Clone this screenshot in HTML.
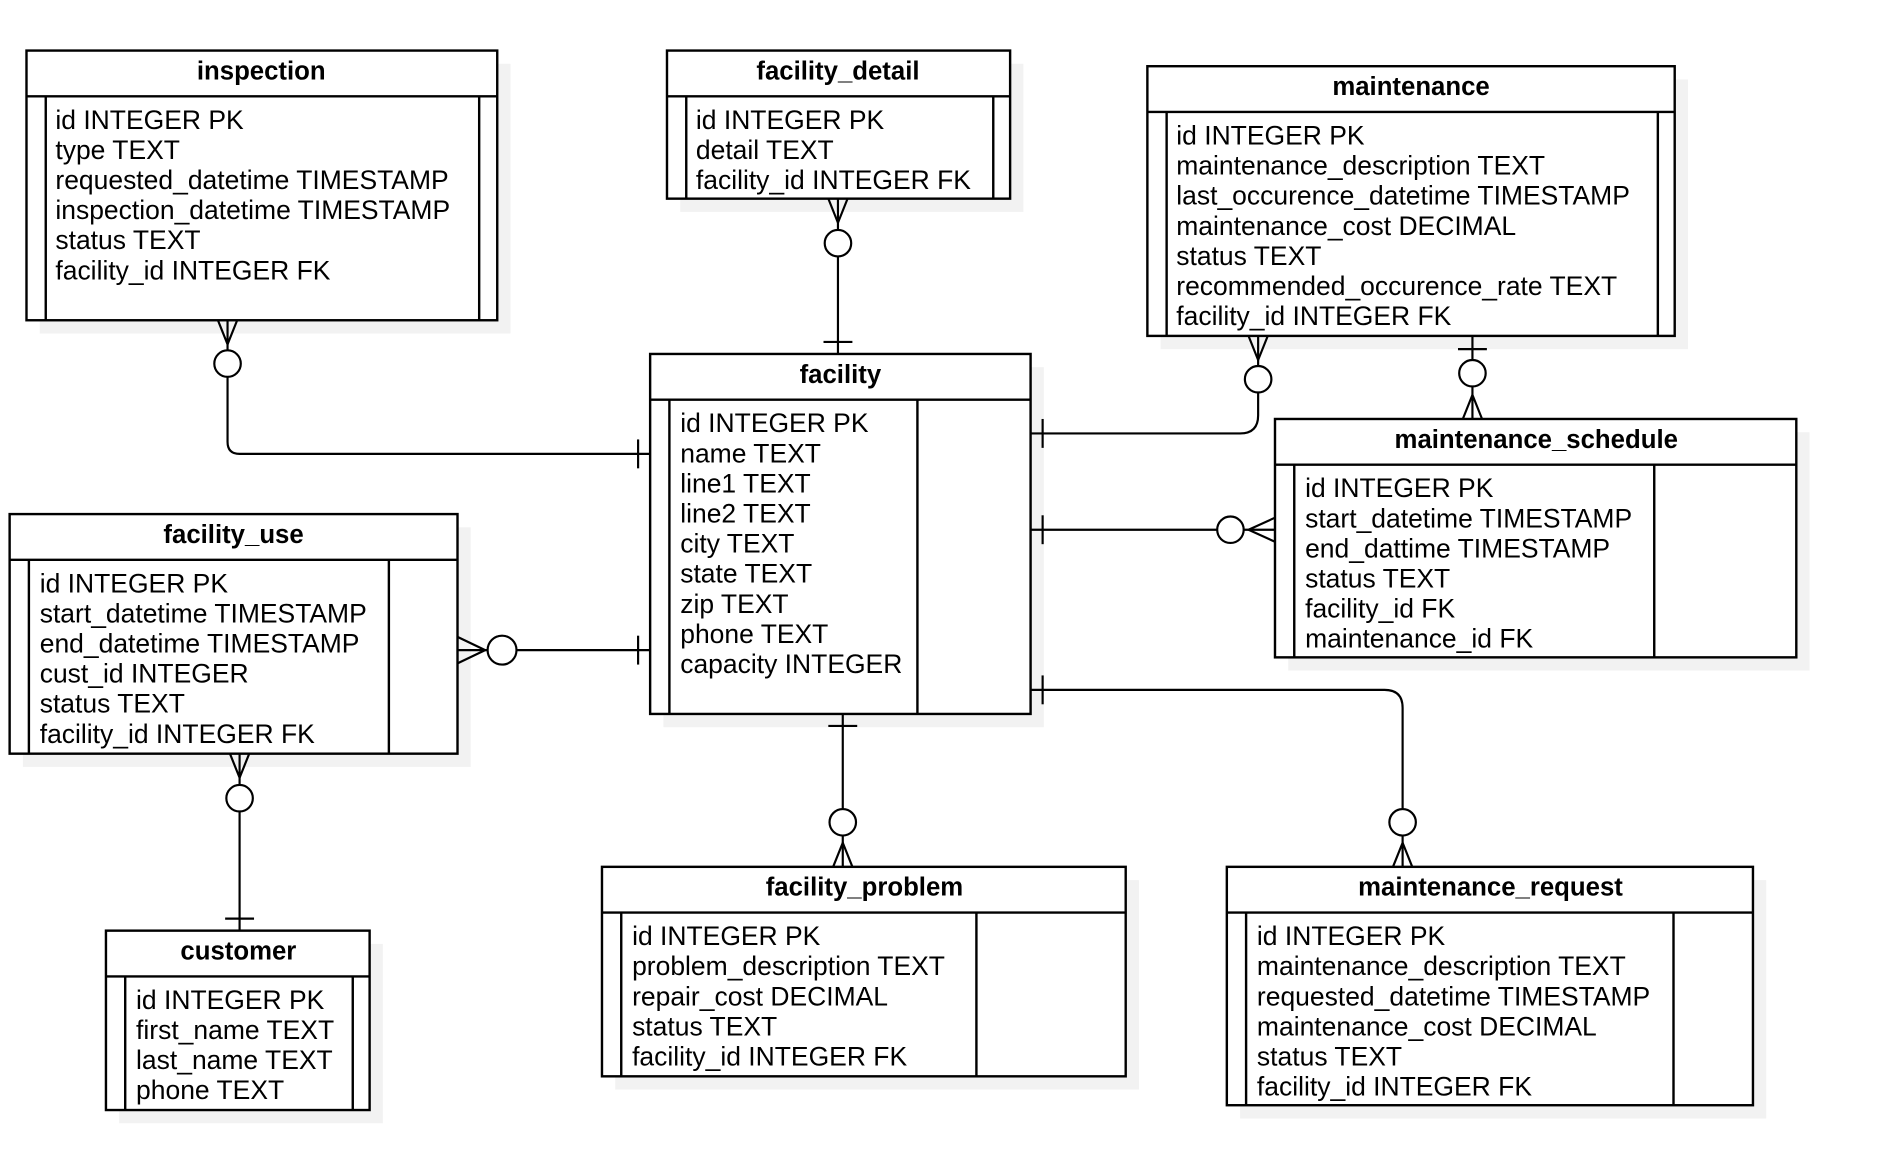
<!DOCTYPE html>
<html><head><meta charset="utf-8"><style>
html,body{margin:0;padding:0;background:#fff;width:1886px;height:1160px;overflow:hidden}
svg text{font-family:"Liberation Sans",Arial,sans-serif;fill:#000}
.t{font-size:22px}
.h{font-size:21.4px;font-weight:bold}
</style></head><body>
<svg width="1886" height="1160" viewBox="0 0 1566.5 963.5" preserveAspectRatio="none" xmlns="http://www.w3.org/2000/svg">
<g fill="#f2f2f2" stroke="none">
<rect x="33" y="53" width="391" height="224"/>
<rect x="565" y="53" width="285" height="123"/>
<rect x="964" y="66" width="438" height="224"/>
<rect x="551" y="305" width="316" height="299"/>
<rect x="1070" y="359" width="433" height="198"/>
<rect x="19" y="438" width="372" height="199"/>
<rect x="99" y="784" width="219" height="149"/>
<rect x="511" y="731" width="435" height="174"/>
<rect x="1030" y="731" width="437" height="198"/>
</g>
<g fill="#fff" stroke="#000" stroke-width="2">
<rect x="22" y="42" width="391" height="224"/>
<line x1="22" y1="80" x2="413" y2="80"/><line x1="38" y1="80" x2="38" y2="266"/><line x1="398" y1="80" x2="398" y2="266"/>
<rect x="554" y="42" width="285" height="123"/>
<line x1="554" y1="80" x2="839" y2="80"/><line x1="570" y1="80" x2="570" y2="165"/><line x1="825" y1="80" x2="825" y2="165"/>
<rect x="953" y="55" width="438" height="224"/>
<line x1="953" y1="93" x2="1391" y2="93"/><line x1="969" y1="93" x2="969" y2="279"/><line x1="1377" y1="93" x2="1377" y2="279"/>
<rect x="540" y="294" width="316" height="299"/>
<line x1="540" y1="332" x2="856" y2="332"/><line x1="556" y1="332" x2="556" y2="593"/><line x1="762" y1="332" x2="762" y2="593"/>
<rect x="1059" y="348" width="433" height="198"/>
<line x1="1059" y1="386" x2="1492" y2="386"/><line x1="1075" y1="386" x2="1075" y2="546"/><line x1="1374" y1="386" x2="1374" y2="546"/>
<rect x="8" y="427" width="372" height="199"/>
<line x1="8" y1="465" x2="380" y2="465"/><line x1="24" y1="465" x2="24" y2="626"/><line x1="323" y1="465" x2="323" y2="626"/>
<rect x="88" y="773" width="219" height="149"/>
<line x1="88" y1="811" x2="307" y2="811"/><line x1="104" y1="811" x2="104" y2="922"/><line x1="293" y1="811" x2="293" y2="922"/>
<rect x="500" y="720" width="435" height="174"/>
<line x1="500" y1="758" x2="935" y2="758"/><line x1="516" y1="758" x2="516" y2="894"/><line x1="811" y1="758" x2="811" y2="894"/>
<rect x="1019" y="720" width="437" height="198"/>
<line x1="1019" y1="758" x2="1456" y2="758"/><line x1="1035" y1="758" x2="1035" y2="918"/><line x1="1390" y1="758" x2="1390" y2="918"/>
</g>
<g fill="none" stroke="#000" stroke-width="1.8">
<path d="M189 266 V367 Q189 377 199 377 H540"/>
<path d="M181 266 L189 286 L197 266"/><circle cx="189" cy="302" r="11" fill="#fff"/>
<line x1="530" y1="365" x2="530" y2="389"/>
<path d="M696 165 V294"/><path d="M688 165 L696 185 L704 165"/><circle cx="696" cy="202" r="11" fill="#fff"/>
<line x1="684" y1="284" x2="708" y2="284"/>
<path d="M1045 279 V345 Q1045 360 1030 360 H856"/>
<path d="M1037 279 L1045 299 L1053 279"/><circle cx="1045" cy="315" r="11" fill="#fff"/>
<line x1="866" y1="348" x2="866" y2="372"/>
<path d="M1223 279 V348"/><line x1="1211" y1="290" x2="1235" y2="290"/>
<circle cx="1223" cy="310" r="11" fill="#fff"/><path d="M1215 348 L1223 328 L1231 348"/>
<path d="M856 440 H1059"/><line x1="866" y1="428" x2="866" y2="452"/>
<circle cx="1022" cy="440" r="11" fill="#fff"/><path d="M1059 430 L1037 440 L1059 450"/>
<path d="M380 540 H540"/><path d="M380 529 L403 540 L380 551"/>
<circle cx="417" cy="540" r="12" fill="#fff"/><line x1="530" y1="528" x2="530" y2="552"/>
<path d="M199 626 V773"/><path d="M191 626 L199 646 L207 626"/>
<circle cx="199" cy="663" r="11" fill="#fff"/><line x1="187" y1="763" x2="211" y2="763"/>
<path d="M700 593 V720"/><line x1="688" y1="603" x2="712" y2="603"/>
<circle cx="700" cy="683" r="11" fill="#fff"/><path d="M692 720 L700 700 L708 720"/>
<path d="M856 573 H1150 Q1165 573 1165 588 V720"/><line x1="866" y1="561" x2="866" y2="585"/>
<circle cx="1165" cy="683" r="11" fill="#fff"/><path d="M1157 720 L1165 700 L1173 720"/>
</g>
<g text-anchor="middle">
<text class="h" x="217" y="66">inspection</text>
<text class="h" x="696" y="66">facility_detail</text>
<text class="h" x="1172" y="79">maintenance</text>
<text class="h" x="698" y="318">facility</text>
<text class="h" x="1276" y="372">maintenance_schedule</text>
<text class="h" x="194" y="451">facility_use</text>
<text class="h" x="198" y="797">customer</text>
<text class="h" x="718" y="744">facility_problem</text>
<text class="h" x="1238" y="744">maintenance_request</text>
</g>
<g>
<text class="t" x="46" y="107">id INTEGER PK</text>
<text class="t" x="46" y="132">type TEXT</text>
<text class="t" x="46" y="157">requested_datetime TIMESTAMP</text>
<text class="t" x="46" y="182">inspection_datetime TIMESTAMP</text>
<text class="t" x="46" y="207">status TEXT</text>
<text class="t" x="46" y="232">facility_id INTEGER FK</text>

<text class="t" x="578" y="107">id INTEGER PK</text>
<text class="t" x="578" y="132">detail TEXT</text>
<text class="t" x="578" y="157">facility_id INTEGER FK</text>

<text class="t" x="977" y="120">id INTEGER PK</text>
<text class="t" x="977" y="145">maintenance_description TEXT</text>
<text class="t" x="977" y="170">last_occurence_datetime TIMESTAMP</text>
<text class="t" x="977" y="195">maintenance_cost DECIMAL</text>
<text class="t" x="977" y="220">status TEXT</text>
<text class="t" x="977" y="245">recommended_occurence_rate TEXT</text>
<text class="t" x="977" y="270">facility_id INTEGER FK</text>

<text class="t" x="565" y="359">id INTEGER PK</text>
<text class="t" x="565" y="384">name TEXT</text>
<text class="t" x="565" y="409">line1 TEXT</text>
<text class="t" x="565" y="434">line2 TEXT</text>
<text class="t" x="565" y="459">city TEXT</text>
<text class="t" x="565" y="484">state TEXT</text>
<text class="t" x="565" y="509">zip TEXT</text>
<text class="t" x="565" y="534">phone TEXT</text>
<text class="t" x="565" y="559">capacity INTEGER</text>

<text class="t" x="1084" y="413">id INTEGER PK</text>
<text class="t" x="1084" y="438">start_datetime TIMESTAMP</text>
<text class="t" x="1084" y="463">end_dattime TIMESTAMP</text>
<text class="t" x="1084" y="488">status TEXT</text>
<text class="t" x="1084" y="513">facility_id FK</text>
<text class="t" x="1084" y="538">maintenance_id FK</text>

<text class="t" x="33" y="492">id INTEGER PK</text>
<text class="t" x="33" y="517">start_datetime TIMESTAMP</text>
<text class="t" x="33" y="542">end_datetime TIMESTAMP</text>
<text class="t" x="33" y="567">cust_id INTEGER</text>
<text class="t" x="33" y="592">status TEXT</text>
<text class="t" x="33" y="617">facility_id INTEGER FK</text>

<text class="t" x="113" y="838">id INTEGER PK</text>
<text class="t" x="113" y="863">first_name TEXT</text>
<text class="t" x="113" y="888">last_name TEXT</text>
<text class="t" x="113" y="913">phone TEXT</text>

<text class="t" x="525" y="785">id INTEGER PK</text>
<text class="t" x="525" y="810">problem_description TEXT</text>
<text class="t" x="525" y="835">repair_cost DECIMAL</text>
<text class="t" x="525" y="860">status TEXT</text>
<text class="t" x="525" y="885">facility_id INTEGER FK</text>

<text class="t" x="1044" y="785">id INTEGER PK</text>
<text class="t" x="1044" y="810">maintenance_description TEXT</text>
<text class="t" x="1044" y="835">requested_datetime TIMESTAMP</text>
<text class="t" x="1044" y="860">maintenance_cost DECIMAL</text>
<text class="t" x="1044" y="885">status TEXT</text>
<text class="t" x="1044" y="910">facility_id INTEGER FK</text>
</g>
</svg>
</body></html>
